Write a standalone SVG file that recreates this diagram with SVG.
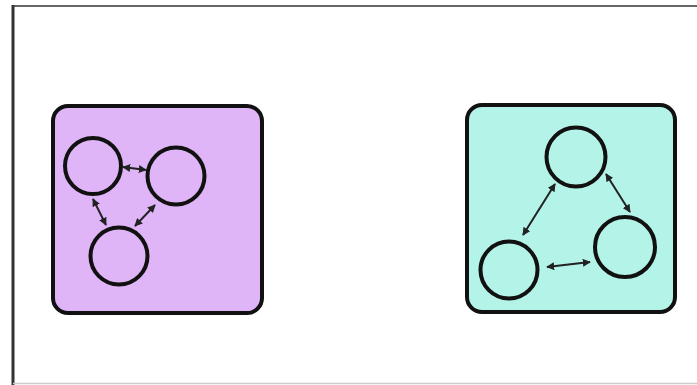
<svg xmlns="http://www.w3.org/2000/svg" width="697" height="385" viewBox="0 0 697 385">
<style>
.box{stroke:#111;stroke-width:4}
.node{fill:none;stroke:#111;stroke-width:4}
.conn{stroke:#222;stroke-width:2;fill:none;marker-start:url(#ah);marker-end:url(#ah)}
</style>
<defs>
<marker id="ah" viewBox="0 0 10 10" refX="9" refY="5" markerWidth="4" markerHeight="4" orient="auto-start-reverse" markerUnits="strokeWidth">
<path d="M0,0 L10,5 L0,10 Z" fill="#222"/>
</marker>
</defs>
<rect width="697" height="385" fill="#fff"/>
<g id="frame">
<line x1="13" y1="6" x2="697" y2="6" stroke="#666" stroke-width="2"/>
<line x1="13" y1="5" x2="13" y2="385" stroke="#333" stroke-width="3"/>
<line x1="13" y1="383.5" x2="697" y2="383.5" stroke="#ccc" stroke-width="1.5"/>
</g>
<g id="box-left">
<rect class="box" x="53" y="106" width="209" height="207" rx="15" fill="#dfb5f8"/>
</g>
<g id="box-right">
<rect class="box" x="467" y="105" width="208" height="207" rx="15" fill="#b4f3e7"/>
</g>
<g id="L1"><circle class="node" cx="93" cy="166" r="28"/></g>
<g id="L2"><circle class="node" cx="176" cy="176" r="28.5"/></g>
<g id="L3"><circle class="node" cx="119" cy="256" r="28.5"/></g>
<g id="R1"><circle class="node" cx="576" cy="157" r="29.5"/></g>
<g id="R2"><circle class="node" cx="509" cy="270" r="28.5"/></g>
<g id="R3"><circle class="node" cx="625" cy="247" r="30"/></g>
<g id="connectors">
<line class="conn" x1="123" y1="167" x2="146" y2="170"/>
<line class="conn" x1="93" y1="199" x2="106" y2="225"/>
<line class="conn" x1="155" y1="205" x2="135" y2="226"/>
<line class="conn" x1="555" y1="184" x2="523" y2="235"/>
<line class="conn" x1="606" y1="174" x2="630" y2="212"/>
<line class="conn" x1="547" y1="267" x2="590" y2="262"/>
</g>
</svg>
